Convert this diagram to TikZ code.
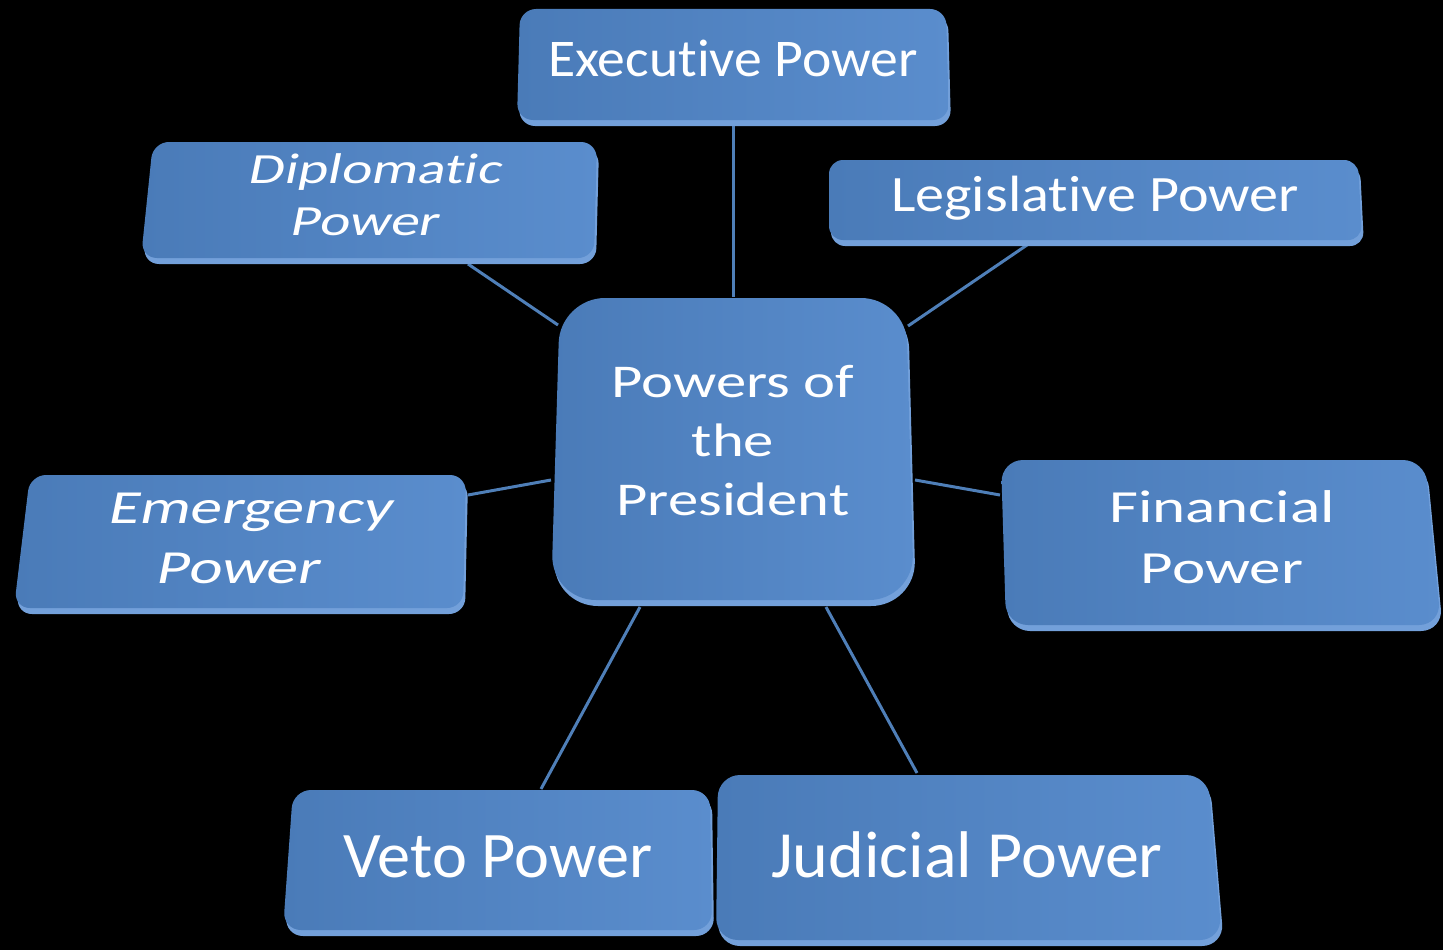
\documentclass[tikz,border=0pt]{standalone}
\usepackage{fontspec}
\setmainfont{Carlito}[RawFeature={-liga,-clig,-calt,-dlig}]
\definecolor{face1}{HTML}{4A7BB8}
\definecolor{face2}{HTML}{5A8DCD}
\definecolor{rimc}{HTML}{73A0DA}
\definecolor{linkc}{HTML}{4F7FB8}
\newcommand\powerbox[5]{%
  \fill[rimc, rounded corners=#5] ([shift={(2,6)}]#1) -- ([shift={(2,6)}]#2) -- ([shift={(2,6)}]#3) -- ([shift={(2,6)}]#4) -- cycle;
  \shade[left color=face1, right color=face2, rounded corners=#5] (#1) -- (#2) -- (#3) -- (#4) -- cycle;
}
\newcommand\nolig{\kern0pt\relax}
\begin{document}
\begin{tikzpicture}[x=1pt,y=-1pt,
  txt/.style={text=white, align=center, inner sep=0pt, transform shape},
  link/.style={draw=linkc, line width=3pt}]
\fill[black] (0,0) rectangle (1443,950);
\useasboundingbox (0,0) rectangle (1443,950);

% connector end points
\coordinate (ce-n) at (733,297);  \coordinate (ex-s) at (733,122);
\coordinate (ce-nw) at (558,325); \coordinate (di-s) at (468,264);
\coordinate (ce-ne) at (908,326); \coordinate (le-s) at (1027,245);
\coordinate (ce-w) at (551,480);  \coordinate (em-e) at (468,495);
\coordinate (ce-e) at (915,480);  \coordinate (fi-w) at (1000,495);
\coordinate (ce-sw) at (640,607); \coordinate (ve-n) at (541,789);
\coordinate (ce-se) at (826,607); \coordinate (ju-n) at (917,773);

\draw[link] (ex-s) -- (ce-n);
\draw[link] (di-s) -- (ce-nw);
\draw[link] (le-s) -- (ce-ne);
\draw[link] (em-e) -- (ce-w);
\draw[link] (fi-w) -- (ce-e);
\draw[link] (ve-n) -- (ce-sw);
\draw[link] (ju-n) -- (ce-se);

% boxes
\powerbox{520,9}{946,9}{949,120}{517,120}{16}
\powerbox{153,142}{597,142}{594,258}{141,258}{16}
\powerbox{829,160}{1358,160}{1362,240}{829,240}{14}
\powerbox{560,298}{906,298}{914,600}{551,600}{45}
\powerbox{30,475}{466,475}{463,608}{14,608}{16}
\powerbox{1001,460}{1425,460}{1441,625}{1006,625}{22}
\powerbox{293,790}{710,790}{712,930}{283,930}{18}
\powerbox{718,775}{1208,775}{1222,940}{716,940}{22}

% texts
\node[txt, anchor=base, font=\fontsize{53}{64}\selectfont, xscale=1.05] (exec) at (733,77) {Execut\nolig ive Power};
\node[txt, font=\fontsize{43}{52}\selectfont, xscale=1.34, xslant=0.15] (dipl) at (372,195) {Diplomat\nolig ic\\Power};
\node[txt, anchor=base, font=\fontsize{51}{60}\selectfont, xscale=1.14] (legi) at (1095,211) {Legislat\nolig ive Power};
\node[txt, font=\fontsize{47}{59}\selectfont, xscale=1.29] (pres) at (733,441) {Powers of\\the\\President};
\node[txt, font=\fontsize{47.5}{60}\selectfont, xscale=1.33, xslant=0.15] (emer) at (246,538) {Emergency\\Power};
\node[txt, font=\fontsize{46}{61}\selectfont, xscale=1.37] (fina) at (1222,537) {Financial\\Power};
\node[txt, anchor=base, font=\fontsize{65}{70}\selectfont, xscale=1.02] (veto) at (498,877) {Veto Power};
\node[txt, anchor=base, font=\fontsize{66}{70}\selectfont, xscale=1.03] (judi) at (967,877) {Judicial Power};
\end{tikzpicture}
\end{document}
